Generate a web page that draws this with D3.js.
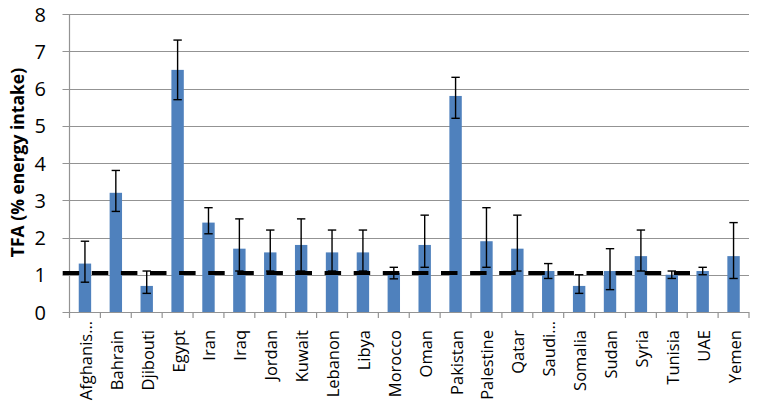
<!DOCTYPE html>
<html>
<head>
<meta charset="utf-8">
<script src="https://cdn.jsdelivr.net/npm/d3@7"></script>
<style>
  html, body { margin: 0; padding: 0; background: #fff; }
  svg { display: block; }
  text { font-family: "Open Sans", "Liberation Sans", sans-serif; fill: #000; }
</style>
</head>
<body>
<svg id="chart" width="761" height="408"></svg>
<script>
const categories = ["Afghanis…","Bahrain","Djibouti","Egypt","Iran","Iraq","Jordan","Kuwait","Lebanon","Libya","Morocco","Oman","Pakistan","Palestine","Qatar","Saudi…","Somalia","Sudan","Syria","Tunisia","UAE","Yemen"];
const values   = [1.3, 3.2, 0.7, 6.5, 2.4, 1.7, 1.6, 1.8, 1.6, 1.6, 1.05, 1.8, 5.8, 1.9, 1.7, 1.1, 0.7, 1.1, 1.5, 1.0, 1.1, 1.5];
const errLow   = [0.8, 2.7, 0.5, 5.7, 2.1, 1.1, 1.1, 1.1, 1.1, 1.1, 0.89, 1.2, 5.2, 1.2, 1.1, 0.9, 0.5, 0.6, 1.1, 0.9, 1.0, 0.9];
const errHigh  = [1.9, 3.8, 1.1, 7.3, 2.8, 2.5, 2.2, 2.5, 2.2, 2.2, 1.2, 2.6, 6.3, 2.8, 2.6, 1.3, 1.0, 1.7, 2.2, 1.1, 1.2, 2.4];
const yTicks   = [0, 1, 2, 3, 4, 5, 6, 7, 8];
const referenceValue = 1.05;
const yTitle = "TFA (% energy intake)";

(function () {
const svg = d3.select("#chart");
const pLeft = 69.5, pRight = 749, pTop = 14, pBottom = 312;

const xb = d3.scaleBand().domain(categories).range([pLeft, pRight]);
const y = d3.scaleLinear().domain([0, 8]).range([pBottom, pTop]);

// gridlines
svg.append("g").selectAll("line").data(yTicks).join("line")
  .attr("x1", pLeft - 7).attr("x2", pRight)
  .attr("y1", d => Math.round(y(d)) + 0.5).attr("y2", d => Math.round(y(d)) + 0.5)
  .attr("stroke", "#939393").attr("stroke-width", 1.2);

// y axis line
svg.append("line").attr("x1", pLeft).attr("x2", pLeft).attr("y1", y(8)).attr("y2", pBottom)
  .attr("stroke", "#939393").attr("stroke-width", 1.2);

// x category ticks
const bounds = categories.map(c => xb(c)).concat([pRight]);
svg.append("g").selectAll("line").data(bounds).join("line")
  .attr("x1", d => d).attr("x2", d => d).attr("y1", pBottom).attr("y2", pBottom + 6)
  .attr("stroke", "#939393").attr("stroke-width", 1.2);

// y tick labels
svg.append("g").selectAll("text").data(yTicks).join("text")
  .attr("x", 46).attr("y", d => y(d))
  .attr("text-anchor", "end").attr("dominant-baseline", "central")
  .style("font-size", "20px")
  .text(d => d);

// bars
svg.append("g").selectAll("rect").data(categories).join("rect")
  .attr("x", d => xb(d) + xb.bandwidth() / 2 - 6.2)
  .attr("width", 12.4)
  .attr("y", (d, i) => y(values[i]))
  .attr("height", (d, i) => pBottom - y(values[i]))
  .attr("fill", "#4f81bd");

// reference dashed line
svg.append("line")
  .attr("x1", 62.7).attr("x2", 690)
  .attr("y1", y(referenceValue)).attr("y2", y(referenceValue))
  .attr("stroke", "#000").attr("stroke-width", 4)
  .attr("stroke-dasharray", "16.5 12.6");

// error bars
const eb = svg.append("g").attr("stroke", "#000").attr("stroke-width", 1.4);
categories.forEach((c, i) => {
  const cx = xb(c) + xb.bandwidth() / 2;
  eb.append("line").attr("x1", cx).attr("x2", cx).attr("y1", y(errLow[i])).attr("y2", y(errHigh[i]));
  eb.append("line").attr("x1", cx - 4.2).attr("x2", cx + 4.2).attr("y1", y(errLow[i])).attr("y2", y(errLow[i]));
  eb.append("line").attr("x1", cx - 4.2).attr("x2", cx + 4.2).attr("y1", y(errHigh[i])).attr("y2", y(errHigh[i]));
});

// x labels rotated
svg.append("g").selectAll("text").data(categories).join("text")
  .attr("transform", d => {
    const cx = xb(d) + xb.bandwidth() / 2;
    const yy = d.endsWith("…") ? 321 : 330;
    return `translate(${cx + 7},${yy}) rotate(-90)`;
  })
  .attr("text-anchor", "end")
  .style("font-size", "16.5px")
  .text(d => d);

// y title
svg.append("text")
  .attr("transform", `translate(24,${(72 + 253) / 2}) rotate(-90)`)
  .attr("text-anchor", "middle")
  .style("font-size", "17.5px").style("font-weight", "bold")
  .text(yTitle);
})();
</script>
</body>
</html>
